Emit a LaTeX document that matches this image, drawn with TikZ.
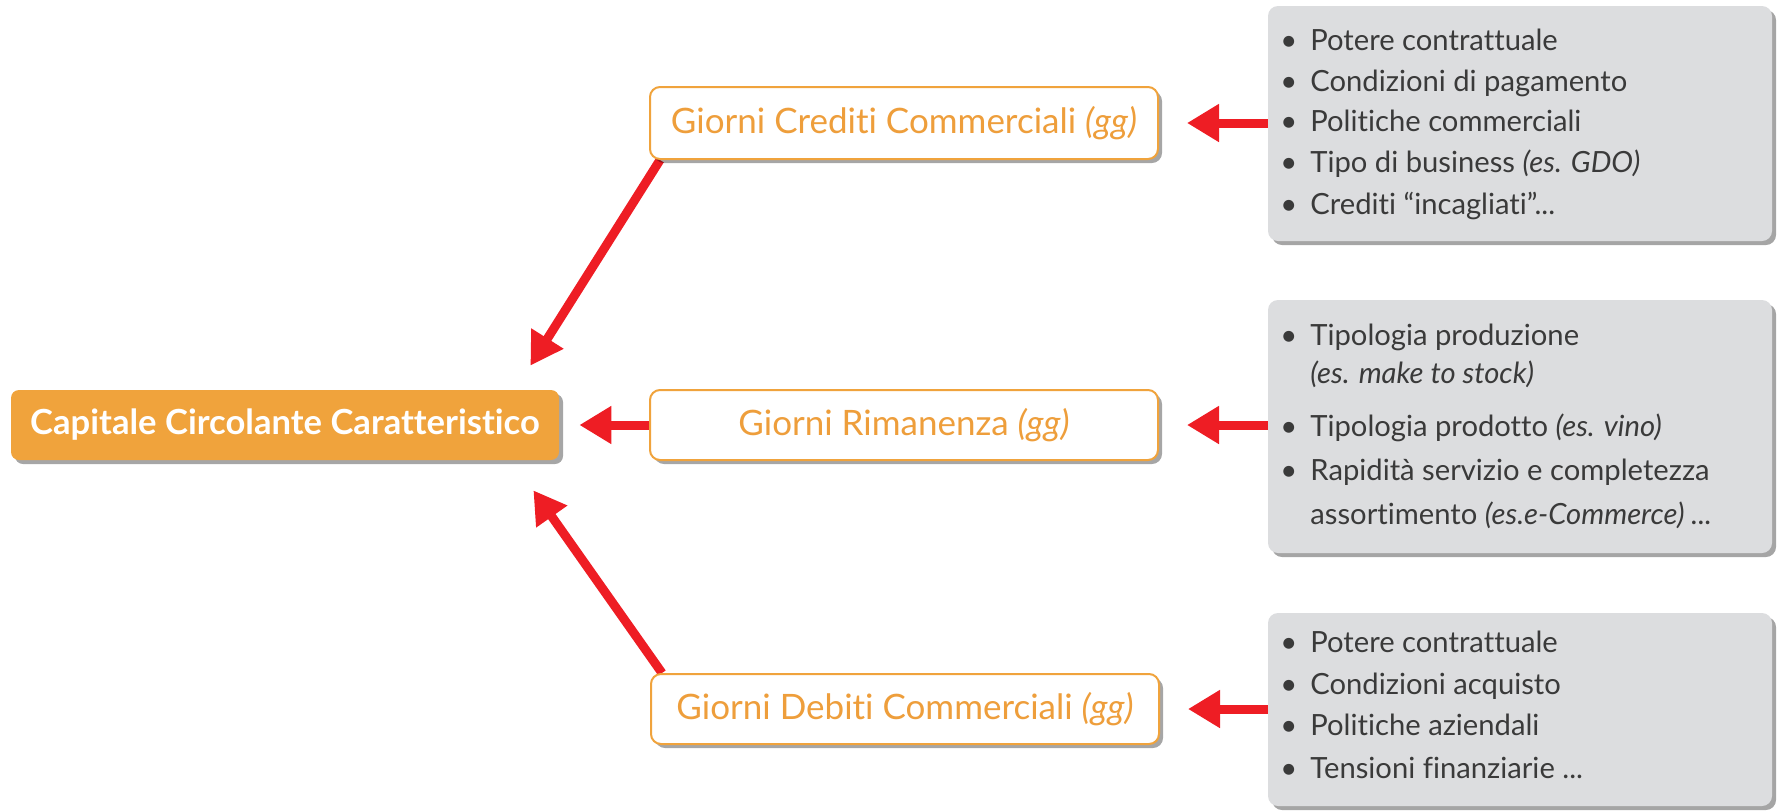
\documentclass[tikz,border=0pt]{standalone}
\usepackage{fontspec}
\setmainfont{Lato}[Ligatures=NoCommon]
\usetikzlibrary{arrows.meta,shadows,backgrounds}
\definecolor{orangeF}{HTML}{F0A33C}
\definecolor{orangeT}{HTML}{EE9E3B}
\definecolor{redA}{HTML}{EE1D24}
\definecolor{grayF}{HTML}{DCDDDF}
\definecolor{txt}{HTML}{3A3A3A}
\begin{document}
\begin{tikzpicture}[x=0.5pt,y=-0.5pt,
  mainbox/.style={fill=orangeF, rounded corners=4pt, minimum width=274pt, minimum height=35pt, inner sep=0pt,
    text=white, font=\bfseries\fontsize{17.3}{20}\selectfont,
    drop shadow={shadow xshift=2pt, shadow yshift=-2pt, fill=black, opacity=0.35}},
  factbox/.style={fill=white, draw=orangeF, line width=1pt, rounded corners=5pt, minimum width=254pt, minimum height=35pt, inner sep=0pt,
    text=orangeT, font=\fontsize{17.5}{20}\selectfont,
    drop shadow={shadow xshift=2pt, shadow yshift=-2pt, fill=black, opacity=0.35}},
  infobox/.style={fill=grayF, rounded corners=5pt, minimum width=252pt, inner sep=0pt,
    drop shadow={shadow xshift=2pt, shadow yshift=-2pt, fill=black!70, opacity=0.5}},
  itemline/.style={anchor=base west, inner sep=0pt, text=txt, font=\fontsize{14.6}{18}\selectfont},
  redarrow/.style={draw=redA, line width=4.5pt, -{Triangle[length=16pt,width=18pt]}}
]
\useasboundingbox (0,0) rectangle (1779,810);

% main and factor boxes
\node[mainbox] (m) at (285,425) {Capitale Circolante Caratteristico};
\node[factbox, minimum height=36pt] (c) at (904,123) {Giorni Crediti Commerciali \textit{(gg)}};
\node[factbox] (r) at (904,425) {Giorni Rimanenza \textit{(gg)}};
\node[factbox] (d) at (905,709) {Giorni Debiti Commerciali \textit{(gg)}};

% info boxes
\node[infobox, minimum height=117.5pt] (g1) at (1520,123.5) {};
\node[infobox, minimum height=126.5pt] (g2) at (1520,426.5) {};
\node[infobox, minimum height=96.5pt] (g3) at (1520,709.5) {};

\newcommand{\bul}{\makebox[15pt][l]{\textbullet}}
\newcommand{\nobul}{\makebox[15pt][l]{}}

% box 1 texts
\node[itemline] (g1a) at (1280,50) {\bul Potere contrattuale};
\node[itemline] (g1b) at (1280,91) {\bul Condizioni di pagamento};
\node[itemline] (g1c) at (1280,131) {\bul Politiche commerciali};
\node[itemline] (g1d) at (1280,172) {\bul Tipo di business \textit{(es. GDO)}};
\node[itemline] (g1e) at (1280,214) {\bul Crediti “incagliati”...};

% box 2 texts
\node[itemline] (g2a) at (1280,345) {\bul Tipologia produzione};
\node[itemline] (g2b) at (1280,383) {\nobul\textit{(es. make to stock)}};
\node[itemline] (g2c) at (1280,436) {\bul Tipologia prodotto \textit{(es. vino)}};
\node[itemline] (g2d) at (1280,480) {\bul Rapidità servizio e completezza};
\node[itemline] (g2e) at (1280,524) {\nobul assortimento \textit{(es.e-Commerce) ...}};

% box 3 texts
\node[itemline] (g3a) at (1280,652) {\bul Potere contrattuale};
\node[itemline] (g3b) at (1280,694) {\bul Condizioni acquisto};
\node[itemline] (g3c) at (1280,735) {\bul Politiche aziendali};
\node[itemline] (g3d) at (1280,778) {\bul Tensioni finanziarie ...};

% arrows
\begin{scope}[on background layer]
\draw[redarrow, shorten >=14pt] (g1.west |- c.east) -- (c.east);
\draw[redarrow, shorten >=14pt] (g2.west |- r.east) -- (r.east);
\draw[redarrow, shorten >=14pt] (g3.west |- d.east) -- (d.east);
\draw[redarrow, shorten >=10pt] (r.west) -- (m.east);
\draw[redarrow] ([xshift=5.5pt]c.south west) -- ([xshift=-14.5pt,yshift=12pt]m.north east);
\draw[redarrow] ([xshift=6pt]d.north west) -- ([xshift=-13pt,yshift=-15pt]m.south east);
\end{scope}
\end{tikzpicture}
\end{document}
